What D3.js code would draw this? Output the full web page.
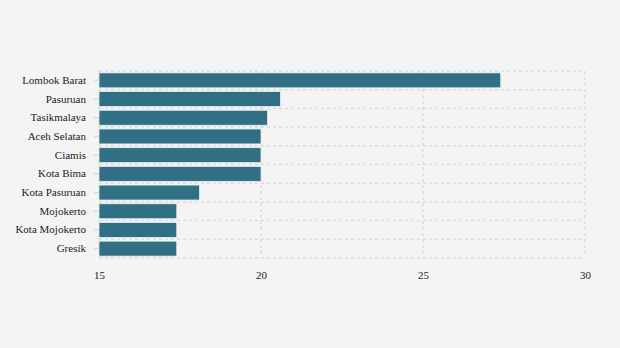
<!DOCTYPE html>
<html>
<head>
<meta charset="utf-8">
<script src="https://cdn.jsdelivr.net/npm/d3@7"></script>
<style>
  html, body { margin: 0; padding: 0; background: #f4f4f4; }
  svg { display: block; }
  text { font-family: "Liberation Serif", "DejaVu Serif", serif; fill: #222; }
</style>
</head>
<body>
<div id="chart"></div>
<script>
const regions = ["Lombok Barat", "Pasuruan", "Tasikmalaya", "Aceh Selatan", "Ciamis",
                 "Kota Bima", "Kota Pasuruan", "Mojokerto", "Kota Mojokerto", "Gresik"];
const values = [27.4, 20.6, 20.2, 20.0, 20.0, 20.0, 18.1, 17.4, 17.4, 17.4];
const xTicks = [15, 20, 25, 30];

const width = 620, height = 348;
const margin = { top: 71, right: 35, bottom: 90, left: 99 };

const svg = d3.select("#chart").append("svg")
  .attr("width", width).attr("height", height);

svg.append("rect").attr("width", width).attr("height", height).attr("fill", "#f4f4f4");

const x = d3.scaleLinear().domain([15, 30]).range([margin.left, width - margin.right]);
const y = d3.scaleBand().domain(regions)
  .range([margin.top, height - margin.bottom])
  .paddingInner(0.2).paddingOuter(0.1);

const gridColor = "#dcdcdc";
const grid = svg.append("g");

// horizontal dashed lines at band boundaries
const step = y.step();
const y0 = margin.top;
const boundaries = d3.range(regions.length + 1).map(i => y0 + i * (height - margin.bottom - margin.top) / regions.length);
grid.selectAll("line.h").data(boundaries).join("line")
  .attr("x1", x(15)).attr("x2", x(30))
  .attr("y1", d => d).attr("y2", d => d)
  .attr("stroke", gridColor).attr("stroke-width", 1.5).attr("stroke-dasharray", "3,3");

// vertical dashed lines at the ticks
grid.selectAll("line.v").data(xTicks).join("line")
  .attr("x1", d => x(d)).attr("x2", d => x(d))
  .attr("y1", margin.top).attr("y2", height - margin.bottom)
  .attr("stroke", gridColor).attr("stroke-width", 1.5).attr("stroke-dasharray", "3,3");

// bars
svg.append("g").selectAll("rect").data(regions).join("rect")
  .attr("x", x(15))
  .attr("y", d => y(d))
  .attr("width", (d, i) => x(values[i]) - x(15))
  .attr("height", y.bandwidth())
  .attr("fill", "#316f84")
  .attr("stroke", "#e8eef0").attr("stroke-width", 0.8);

// y axis: small ticks and labels
const yAxis = svg.append("g").attr("transform", `translate(${x(15)},0)`)
  .call(d3.axisLeft(y).tickSize(5).tickPadding(8));
yAxis.select(".domain").remove();
yAxis.selectAll(".tick line").attr("stroke", "#dcdcdc").attr("stroke-width", 1.5);
yAxis.selectAll(".tick text").attr("font-size", 11).attr("fill", "#222")
  .attr("font-family", "'Liberation Serif', serif");

// x axis labels
const xAxis = svg.append("g").attr("transform", `translate(0,${height - margin.bottom})`)
  .call(d3.axisBottom(x).tickValues(xTicks).tickSize(0).tickPadding(13));
xAxis.select(".domain").remove();
xAxis.selectAll(".tick text").attr("font-size", 11).attr("fill", "#222")
  .attr("font-family", "'Liberation Serif', serif");
</script>
</body>
</html>
